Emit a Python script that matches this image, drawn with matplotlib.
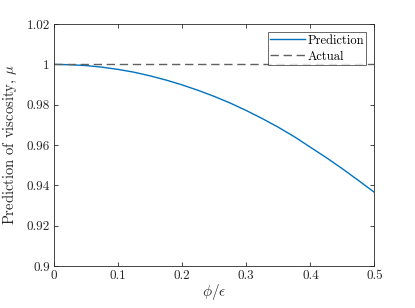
import matplotlib
matplotlib.use("Agg")
import matplotlib.pyplot as plt

x_vals = [0.0, 0.025, 0.05, 0.075, 0.1, 0.125, 0.15, 0.175, 0.2, 0.225, 0.25,
          0.275, 0.3, 0.325, 0.35, 0.375, 0.4, 0.425, 0.45, 0.475, 0.5]
prediction = [1.0000, 0.9998, 0.9994, 0.9986, 0.9975, 0.9961, 0.9943, 0.9922,
              0.9898, 0.9871, 0.9841, 0.9808, 0.9771, 0.9731, 0.9688, 0.9641,
              0.9589, 0.9537, 0.9482, 0.9424, 0.9365]
actual_x = [0.0, 0.5]
actual = [1.0, 1.0]
xticks = [0, 0.1, 0.2, 0.3, 0.4, 0.5]
xtick_labels = ["0", "0.1", "0.2", "0.3", "0.4", "0.5"]
yticks = [0.9, 0.92, 0.94, 0.96, 0.98, 1.0, 1.02]
ytick_labels = ["0.9", "0.92", "0.94", "0.96", "0.98", "1", "1.02"]

plt.rcParams['font.family'] = 'serif'
plt.rcParams['font.serif'] = ['cmr10', 'DejaVu Serif']
plt.rcParams['mathtext.fontset'] = 'cm'
plt.rcParams['axes.formatter.use_mathtext'] = True

fig = plt.figure(figsize=(4.15, 3.08), dpi=100)
ax = fig.add_axes([0.130, 0.1364, 0.7724, 0.7856])

ax.plot(x_vals, prediction, color='#0072BD', lw=1.0, label='Prediction')
ax.plot(actual_x, actual, color='#606060', lw=1.0, ls=(0, (6, 3.4)), label='Actual')

ax.set_xlim(0, 0.5)
ax.set_ylim(0.9, 1.02)
ax.set_xticks(xticks)
ax.set_xticklabels(xtick_labels)
ax.set_yticks(yticks)
ax.set_yticklabels(ytick_labels)
axc = '#262626'
for s in ax.spines.values():
    s.set_color(axc)
    s.set_linewidth(0.6)
ax.tick_params(direction='in', top=True, right=True, length=3, width=0.6,
               colors=axc, labelsize=9.5, pad=3)
ax.set_xlabel(r'$\phi/\epsilon$', fontsize=11, color=axc, labelpad=0)
ax.set_ylabel(r'Prediction of viscosity, $\mu$', fontsize=10.5, color=axc, labelpad=5)

leg = ax.legend(loc='upper right', fontsize=9, frameon=True, fancybox=False,
                borderpad=0.2, handlelength=2.8, handletextpad=0.15,
                labelspacing=0.3, borderaxespad=0.65)
leg.get_frame().set_edgecolor(axc)
leg.get_frame().set_linewidth(0.6)

fig.savefig('out.png', dpi=100)
